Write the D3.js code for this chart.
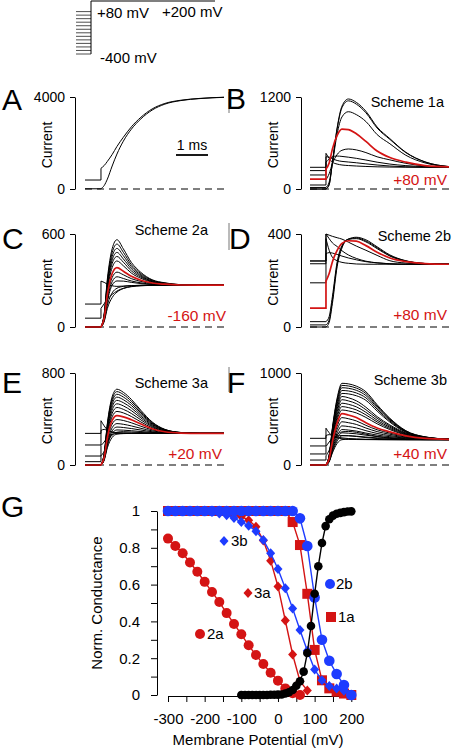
<!DOCTYPE html>
<html>
<head>
<meta charset="utf-8">
<script src="https://cdn.jsdelivr.net/npm/d3@7"></script>
<style>
  body { margin: 0; background: #fff; }
  svg { font-family: "Liberation Sans", Arial, sans-serif; }
</style>
</head>
<body>
<svg id="fig" width="452" height="752"></svg>
<script>
// sample times (ms) after the test step; the step itself is at 0.5 ms
const tS = [0.5, 0.6, 0.7, 0.85, 1.0, 1.2, 1.45, 1.75, 2.1, 2.5, 3.0, 3.6, 4.35];

// prepulse levels of the protocol sketch (mV)
const protoLevels = [-400, -360, -320, -280, -240, -200, -160, -120, -80, -40, 0, 40, 80];

// A
const aHold = [390, 10];
const aTraces = [
  [900, 1020, 1200, 1500, 1850, 2250, 2700, 3120, 3480, 3720, 3860, 3940, 3990],
  [10, 150, 430, 1000, 1520, 2080, 2600, 3050, 3430, 3690, 3845, 3932, 3985]
];

// B  Scheme 1a (red = +80 mV)
const bHold = [0, 0, 20, 52, 183, 240, 283, 130];
const bTraces = [
  [0, 60, 350, 800, 1080, 1174, 1130, 1014, 809, 657, 479, 354, 292],
  [0, 55, 340, 785, 1060, 1150, 1107, 994, 795, 647, 474, 352, 292],
  [20, 90, 330, 720, 940, 1008, 970, 880, 710, 590, 440, 340, 290],
  [120, 200, 330, 450, 505, 522, 510, 475, 420, 380, 335, 300, 286],
  [350, 390, 420, 430, 425, 415, 400, 378, 350, 325, 305, 292, 285],
  [420, 415, 395, 372, 360, 352, 342, 328, 313, 300, 290, 285, 283],
  [465, 400, 350, 325, 313, 306, 300, 294, 289, 286, 284, 283, 283],
  [260, 340, 520, 700, 780, 775, 720, 620, 495, 410, 350, 305, 288]
];
const bRed = 7;

// C  Scheme 2a (red = -160 mV)
const cHold = [0, 0, 0, 0, 0, 0, 0, 0, 0, 0, 0, 57, 148, 0];
const cTraces = [
  [0, 85, 310, 505, 563, 504, 417, 352, 305, 285, 273, 270, 270],
  [0, 80, 295, 480, 535, 482, 402, 344, 302, 283, 273, 270, 270],
  [0, 76, 280, 456, 507, 460, 389, 336, 298, 282, 272, 270, 270],
  [0, 72, 265, 433, 481, 439, 376, 329, 295, 281, 272, 270, 270],
  [0, 68, 250, 410, 455, 418, 362, 322, 292, 279, 272, 270, 270],
  [0, 64, 234, 383, 426, 395, 348, 314, 289, 278, 272, 270, 270],
  [0, 53, 195, 319, 354, 337, 312, 294, 280, 274, 271, 270, 270],
  [0, 49, 178, 292, 324, 313, 297, 285, 276, 273, 270, 270, 270],
  [0, 45, 165, 270, 297, 296, 288, 280, 274, 271, 270, 270, 270],
  [0, 40, 140, 220, 250, 262, 267, 269, 270, 270, 270, 270, 270],
  [0, 35, 120, 190, 225, 248, 260, 266, 269, 270, 270, 270, 270],
  [120, 150, 180, 210, 232, 250, 262, 267, 269, 270, 270, 270, 270],
  [296, 288, 276, 266, 262, 264, 267, 269, 270, 270, 270, 270, 270],
  [0, 57, 210, 345, 383, 360, 327, 302, 284, 276, 271, 270, 270]
];
const cRed = 13;

// D  Scheme 2b (red = +80 mV)
const dHold = [0, 9, 23, 190, 272, 284, 284, 81];
const dTraces = [
  [0, 20, 100, 260, 340, 378, 386, 375, 345, 310, 285, 273, 270],
  [9, 30, 115, 270, 345, 378, 383, 370, 341, 307, 284, 273, 270],
  [23, 45, 130, 280, 350, 377, 380, 366, 337, 305, 283, 273, 270],
  [315, 320, 318, 312, 305, 297, 289, 281, 276, 272, 270, 270, 270],
  [400, 395, 390, 384, 378, 365, 348, 330, 308, 285, 275, 271, 270],
  [400, 380, 362, 346, 328, 310, 295, 283, 276, 272, 270, 270, 270],
  [380, 330, 300, 285, 278, 274, 271, 270, 270, 270, 270, 270, 270],
  [197, 230, 280, 330, 360, 371, 369, 350, 322, 297, 281, 273, 270]
];
const dRed = 7;

// E  Scheme 3a (red = +20 mV)
const eHold = [0, 0, 0, 0, 0, 0, 0, 0, 0, 0, 0, 0, 0, 275, 174, 78, 29, 0];
const eTraces = [
  [0, 99, 362, 593, 659, 632, 571, 475, 375, 310, 283, 275, 275],
  [0, 96, 351, 574, 638, 613, 555, 464, 369, 308, 282, 275, 275],
  [0, 92, 338, 554, 615, 591, 537, 452, 363, 306, 282, 275, 275],
  [0, 89, 325, 531, 590, 568, 518, 439, 357, 303, 281, 275, 275],
  [0, 84, 309, 506, 562, 542, 496, 424, 350, 301, 281, 275, 275],
  [0, 80, 293, 479, 532, 514, 473, 409, 342, 298, 280, 275, 275],
  [0, 75, 275, 450, 500, 484, 448, 392, 334, 295, 280, 275, 275],
  [0, 70, 256, 419, 466, 453, 422, 374, 325, 292, 279, 275, 275],
  [0, 59, 217, 356, 395, 387, 367, 337, 306, 286, 277, 275, 275],
  [0, 54, 198, 324, 360, 354, 340, 319, 297, 283, 277, 275, 275],
  [0, 50, 182, 297, 330, 326, 317, 304, 289, 280, 276, 275, 275],
  [0, 46, 168, 275, 305, 303, 298, 291, 283, 278, 276, 275, 275],
  [0, 40, 150, 240, 268, 273, 275, 275, 275, 275, 275, 275, 275],
  [385, 340, 305, 285, 278, 276, 275, 275, 275, 275, 275, 275, 275],
  [300, 310, 300, 288, 281, 277, 275, 275, 275, 275, 275, 275, 275],
  [170, 200, 240, 265, 275, 278, 277, 276, 275, 275, 275, 275, 275],
  [80, 120, 200, 260, 285, 290, 287, 282, 278, 276, 275, 275, 275],
  [0, 65, 237, 387, 430, 419, 394, 356, 315, 289, 278, 275, 275]
];
const eRed = 17;

// F  Scheme 3b (red = +40 mV)
const fHold = [0, 0, 0, 0, 0, 0, 0, 0, 0, 0, 0, 0, 0, 0, 0, 0, 0, 290, 207, 120, 54, 0];
const fTraces = [
  [0, 107, 400, 728, 888, 882, 857, 796, 655, 508, 373, 306, 281],
  [0, 104, 389, 709, 865, 859, 836, 777, 641, 499, 369, 305, 281],
  [0, 101, 378, 689, 840, 834, 812, 755, 625, 490, 365, 303, 281],
  [0, 97, 365, 664, 810, 805, 783, 730, 607, 478, 361, 302, 280],
  [0, 93, 350, 638, 778, 773, 753, 703, 587, 466, 355, 300, 280],
  [0, 89, 335, 611, 745, 731, 698, 628, 526, 435, 348, 299, 280],
  [0, 85, 320, 582, 710, 697, 667, 601, 508, 423, 342, 297, 279],
  [0, 81, 302, 551, 672, 660, 632, 573, 487, 410, 337, 295, 279],
  [0, 76, 286, 521, 635, 624, 599, 545, 468, 397, 331, 293, 279],
  [0, 72, 269, 490, 598, 588, 566, 517, 448, 385, 325, 291, 278],
  [0, 62, 232, 422, 515, 503, 479, 431, 383, 347, 311, 287, 277],
  [0, 56, 212, 385, 470, 460, 441, 402, 363, 334, 304, 285, 277],
  [0, 51, 191, 349, 425, 418, 403, 373, 343, 320, 298, 283, 277],
  [0, 46, 173, 316, 385, 380, 369, 347, 325, 308, 292, 281, 276],
  [0, 42, 158, 287, 350, 346, 339, 324, 309, 298, 286, 279, 276],
  [0, 38, 144, 262, 318, 318, 313, 304, 295, 289, 282, 277, 275],
  [0, 35, 130, 235, 275, 280, 280, 278, 277, 276, 275, 275, 275],
  [400, 350, 315, 295, 285, 280, 277, 276, 275, 275, 275, 275, 275],
  [320, 330, 320, 305, 295, 288, 283, 279, 277, 276, 275, 275, 275],
  [200, 250, 290, 315, 320, 318, 310, 298, 288, 281, 277, 275, 275],
  [100, 160, 260, 330, 360, 365, 355, 335, 310, 292, 280, 276, 275],
  [0, 67, 251, 458, 558, 544, 516, 459, 402, 360, 317, 289, 278]
];
const fRed = 21;

// G  normalized conductance vs membrane potential
const gV20 = [-300, -280, -260, -240, -220, -200, -180, -160, -140, -120, -100, -80, -60, -40, -20,
              0, 20, 40, 60, 80, 100, 120, 140, 160, 180, 200];
const gV10 = [-100, -90, -80, -70, -60, -50, -40, -30, -20, -10, 0, 10, 20, 30, 40, 50, 60, 70, 80, 90,
              100, 110, 120, 130, 140, 150, 160, 170, 180, 190, 200];
const g2a = [0.85, 0.81, 0.77, 0.72, 0.67, 0.615, 0.56, 0.505, 0.445, 0.386, 0.33, 0.27, 0.217, 0.168,
             0.121, 0.078, 0.036, 0.01, 0.0];
const g3a = [1, 1, 1, 1, 1, 1, 1, 0.997, 0.99, 0.982, 0.97, 0.95, 0.915, 0.84, 0.73, 0.59, 0.405, 0.22,
             0.075, 0.025];
const g1a = [1, 1, 1, 1, 1, 1, 1, 1, 1, 1, 1, 1, 1, 1, 1, 1, 1, 0.94, 0.815, 0.55, 0.245, 0.08, 0.036,
             0.018, 0.008, 0.0];
const g3b = [1, 1, 1, 1, 1, 1, 0.995, 0.987, 0.977, 0.962, 0.94, 0.92, 0.89, 0.843, 0.77, 0.685, 0.58,
             0.47, 0.353, 0.241, 0.138, 0.08, 0.049, 0.036, 0.023, 0.0];
const g2b = [1, 1, 1, 1, 1, 1, 1, 1, 1, 1, 1, 1, 1, 1, 1, 1, 1, 1, 0.96, 0.81, 0.53, 0.30, 0.186, 0.114,
             0.054, 0.0];
const gExp = [0, 0, 0, 0, 0, 0, 0, 0, 0.001, 0.001, 0.002, 0.003, 0.008, 0.015, 0.027, 0.05, 0.075,
              0.127, 0.228, 0.375, 0.55, 0.70, 0.826, 0.918, 0.955, 0.975, 0.985, 0.99, 0.994, 0.997, 0.998];
const gYTicks = [0, 0.1, 0.2, 0.3, 0.4, 0.5, 0.6, 0.7, 0.8, 0.9, 1];
const gXTicks = [-300, -250, -200, -150, -100, -50, 0, 50, 100, 150, 200];

const RED = "#d41414";
const BLUE = "#1e3cff";
const svg = d3.select("#fig");

// ---- protocol sketch
const vy = d3.scaleLinear().domain([-400, 200]).range([54, 1]);
protoLevels.forEach(v => {
  svg.append("line").attr("x1", 76).attr("x2", 91).attr("y1", vy(v)).attr("y2", vy(v))
    .attr("stroke", "#222").attr("stroke-width", 0.8);
});
svg.append("line").attr("x1", 91).attr("x2", 91).attr("y1", vy(200)).attr("y2", vy(-400))
  .attr("stroke", "#000").attr("stroke-width", 1);
svg.append("line").attr("x1", 91).attr("x2", 215).attr("y1", vy(200)).attr("y2", vy(200))
  .attr("stroke", "#000").attr("stroke-width", 1.2);
svg.append("text").attr("x", 97).attr("y", 18).attr("font-size", 15).text("+80 mV");
svg.append("text").attr("x", 162).attr("y", 17).attr("font-size", 15).text("+200 mV");
svg.append("text").attr("x", 100).attr("y", 63).attr("font-size", 15).text("-400 mV");

// ---- current panels
const panels = [
  { id: "A", hold: aHold, traces: aTraces, red: -1, max: 4000, x0: 85, ax: 75, top: 97, zero: 189,
    lx: 2, ly: 110, edge: [92, 113] },
  { id: "B", hold: bHold, traces: bTraces, red: bRed, max: 1200, x0: 310, ax: 301, top: 97, zero: 189,
    lx: 226, ly: 109, scheme: ["Scheme 1a", 444, 107], mv: ["+80 mV", 447, 185] },
  { id: "C", hold: cHold, traces: cTraces, red: cRed, max: 600, x0: 85, ax: 75, top: 234, zero: 327,
    lx: 2, ly: 249, edge: [223, 250], scheme: ["Scheme 2a", 208, 235], mv: ["-160 mV", 226, 321] },
  { id: "D", hold: dHold, traces: dTraces, red: dRed, max: 400, x0: 310, ax: 301, top: 234, zero: 327,
    lx: 229, ly: 249, scheme: ["Scheme 2b", 451, 241], mv: ["+80 mV", 447, 320] },
  { id: "E", hold: eHold, traces: eTraces, red: eRed, max: 800, x0: 85, ax: 75, top: 373, zero: 465,
    lx: 2, ly: 393, edge: [367, 392], scheme: ["Scheme 3a", 208, 388], mv: ["+20 mV", 222, 459] },
  { id: "F", hold: fHold, traces: fTraces, red: fRed, max: 1000, x0: 310, ax: 301, top: 373, zero: 465,
    lx: 227, ly: 393, scheme: ["Scheme 3b", 447, 385], mv: ["+40 mV", 447, 459] }
];

panels.forEach(p => {
  const g = svg.append("g");
  const x = d3.scaleLinear().domain([0, 4.35]).range([p.x0, p.x0 + 139]);
  const y = d3.scaleLinear().domain([0, p.max]).range([p.zero, p.top]);

  g.append("line").attr("x1", x(0)).attr("x2", x(4.35)).attr("y1", y(0)).attr("y2", y(0))
    .attr("stroke", "#000").attr("stroke-width", 1.1).attr("stroke-dasharray", "7,5");

  const curve = d3.line().x(d => x(d[0])).y(d => y(d[1])).curve(d3.curveMonotoneX);
  p.traces.forEach((v, i) => {
    const h = p.hold[i];
    const pts = tS.map((t, k) => [t, v[k]]);
    const d = "M" + x(0) + "," + y(h) + "L" + x(tS[0]) + "," + y(h) + curve(pts).replace(/^M/, "L");
    const isRed = i === p.red;
    g.append("path").attr("d", d).attr("fill", "none")
      .attr("stroke", isRed ? RED : "#000")
      .attr("stroke-width", isRed ? 1.7 : 1);
  });

  const axis = g.append("g").attr("transform", "translate(" + p.ax + ",0)")
    .call(d3.axisLeft(y).tickValues([0, p.max]).tickSize(5).tickPadding(5).tickSizeOuter(0)
      .tickFormat(d3.format("d")));
  axis.attr("font-family", null).attr("font-size", null);
  axis.selectAll("text").attr("font-size", 14).attr("fill", "#000");
  axis.selectAll("line, path").attr("stroke", "#000");

  g.append("text").attr("transform", "translate(" + (p.ax - 23) + "," + ((p.top + p.zero) / 2 + 2) + ") rotate(-90)")
    .attr("text-anchor", "middle").attr("font-size", 14).text("Current");

  g.append("text").attr("x", p.lx).attr("y", p.ly).attr("font-size", 30).text(p.id);

  if (p.edge) {
    g.append("line").attr("x1", 229).attr("x2", 229).attr("y1", p.edge[0]).attr("y2", p.edge[1])
      .attr("stroke", "#777").attr("stroke-width", 1);
  }
  if (p.scheme) {
    g.append("text").attr("x", p.scheme[1]).attr("y", p.scheme[2]).attr("text-anchor", "end")
      .attr("font-size", 14.5).text(p.scheme[0]);
  }
  if (p.mv) {
    g.append("text").attr("x", p.mv[1]).attr("y", p.mv[2]).attr("text-anchor", "end")
      .attr("font-size", 15.5).attr("fill", RED).text(p.mv[0]);
  }
});

// time scale bar in A
svg.append("line").attr("x1", 176).attr("x2", 208).attr("y1", 155).attr("y2", 155)
  .attr("stroke", "#000").attr("stroke-width", 1.8);
svg.append("text").attr("x", 192).attr("y", 150).attr("text-anchor", "middle")
  .attr("font-size", 14).text("1 ms");

// ---- panel G
const gx = d3.scaleLinear().domain([-300, 200]).range([168, 351.3]);
const gy = d3.scaleLinear().domain([0, 1]).range([695, 511]);
const gG = svg.append("g");

const yAx = gG.append("g").attr("transform", "translate(157,0)")
  .call(d3.axisLeft(gy).tickValues(gYTicks).tickSize(6).tickPadding(11).tickSizeOuter(0)
    .tickFormat(d => (Math.round(d * 10) % 2 === 0 ? d3.format("~g")(d) : "")));
const xAx = gG.append("g").attr("transform", "translate(0,696)")
  .call(d3.axisBottom(gx).tickValues(gXTicks).tickSize(6).tickPadding(11).tickSizeOuter(0)
    .tickFormat(d => (d % 100 === 0 ? d : "")));
[yAx, xAx].forEach(a => {
  a.attr("font-family", null).attr("font-size", null);
  a.selectAll("text").attr("font-size", 15).attr("fill", "#000");
  a.selectAll("line, path").attr("stroke", "#000");
});

gG.append("text").attr("x", 258).attr("y", 745).attr("text-anchor", "middle")
  .attr("font-size", 15).text("Membrane Potential (mV)");
gG.append("text").attr("transform", "translate(102,603) rotate(-90)")
  .attr("text-anchor", "middle").attr("font-size", 15).text("Norm. Conductance");
gG.append("text").attr("x", 1).attr("y", 517).attr("font-size", 30).text("G");

const gLine = d3.line().x(d => gx(d[0])).y(d => gy(d[1]));
const diamond = "M0,-5L4.5,0L0,5L-4.5,0Z";

function marker(sel, shape, color, r) {
  if (shape === "circle") {
    sel.append("circle").attr("r", r).attr("fill", color);
  } else if (shape === "square") {
    sel.append("rect").attr("x", -r).attr("y", -r).attr("width", 2 * r).attr("height", 2 * r).attr("fill", color);
  } else {
    sel.append("path").attr("d", diamond).attr("fill", color);
  }
}

const series = [
  { v: gV20.slice(0, g2a.length), g: g2a, color: RED, shape: "circle", r: 5 },
  { v: gV20.slice(0, g3a.length), g: g3a, color: RED, shape: "diamond", r: 5 },
  { v: gV20, g: g1a, color: RED, shape: "square", r: 5 },
  { v: gV20, g: g3b, color: BLUE, shape: "diamond", r: 5 },
  { v: gV20, g: g2b, color: BLUE, shape: "circle", r: 5.3 },
  { v: gV10, g: gExp, color: "#000", shape: "circle", r: 4.3 }
];

series.forEach(s => {
  const pts = s.v.map((v, i) => [v, s.g[i]]);
  gG.append("path").attr("d", gLine(pts)).attr("fill", "none")
    .attr("stroke", s.color).attr("stroke-width", 1.4);
  pts.forEach(pt => {
    const m = gG.append("g").attr("transform", "translate(" + gx(pt[0]) + "," + gy(pt[1]) + ")");
    marker(m, s.shape, s.color, s.r);
  });
});

// series labels
const labels = [
  { t: "3b", shape: "diamond", color: BLUE, mx: 224, my: 541, tx: 231, ty: 546 },
  { t: "3a", shape: "diamond", color: RED, mx: 248, my: 593, tx: 254, ty: 598 },
  { t: "2a", shape: "circle", color: RED, mx: 200, my: 634, tx: 207, ty: 639 },
  { t: "2b", shape: "circle", color: BLUE, mx: 330, my: 584, tx: 336, ty: 589 },
  { t: "1a", shape: "square", color: RED, mx: 331, my: 617, tx: 338, ty: 622 }
];
labels.forEach(l => {
  const m = gG.append("g").attr("transform", "translate(" + l.mx + "," + l.my + ")");
  marker(m, l.shape, l.color, 5);
  gG.append("text").attr("x", l.tx).attr("y", l.ty).attr("font-size", 15).text(l.t);
});
</script>
</body>
</html>
